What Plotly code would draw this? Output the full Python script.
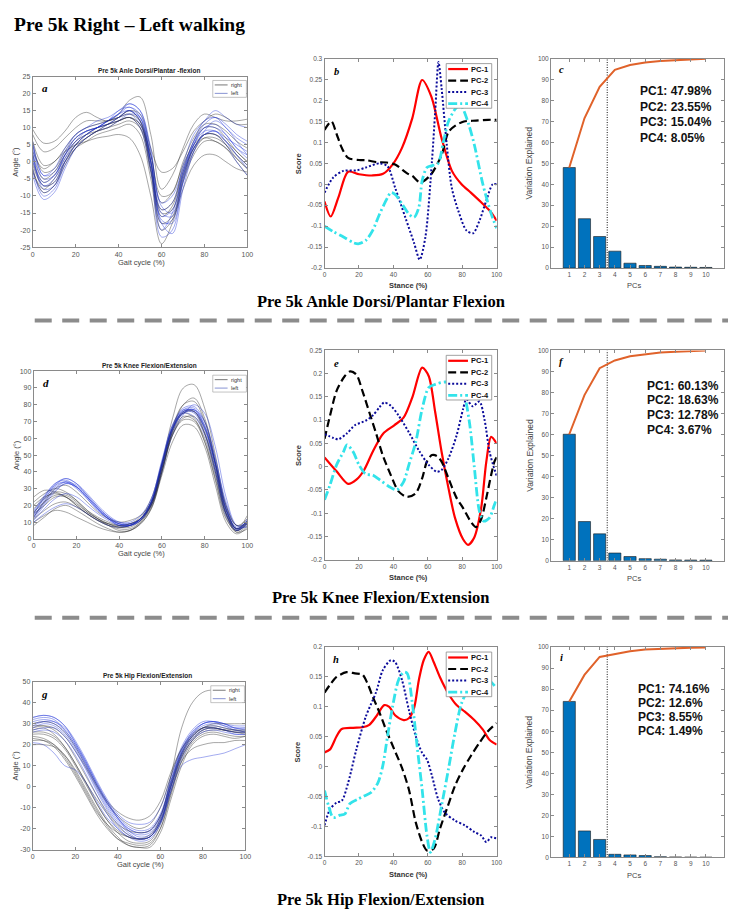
import numpy as np
import plotly.graph_objects as go

W, H = 736, 910

# ---------------- data ----------------
gait_x = [0, 5, 10, 15, 20, 25, 30, 35, 40, 45, 50, 55, 60, 65, 70, 75, 80, 85, 90, 95, 100]

ankle_right = [
    [9.5, 5.5, 6, 9, 13, 14.5, 13, 12, 14, 18, 19, 8, -8, -4, 4, 11, 14, 13, 12, 12, 12.5],
    [5, -3, -2, 3, 7, 9, 10, 11, 12, 13, 11, 2, -12, -9, -1, 5, 8, 8, 6, 3, 0],
    [0, -6, -4, 1, 5, 7, 9, 10, 11, 12, 10, 0, -16, -13, -3, 4, 7, 6, 4, 1, -2],
    [-3, -8, -5, 0, 4, 6, 8, 9, 10, 11, 8, -5, -20, -17, -6, 2, 6, 6, 4, 0, -4],
    [3, -2, 0, 3, 5, 6, 7, 7.5, 8, 7, 2, -10, -24, -18, -8, -1, 2, 2, 0, -2, -3],
    [8, 3, 4, 7, 10, 12, 12, 12, 13, 15, 14, 4, -3, -2, 3, 9, 12, 14, 13, 11, 11],
    [-1, -7, -6, 0, 5, 8, 10, 11, 13, 15, 12, -2, -14, -12, -2, 6, 10, 10, 7, 3, 0],
    [2, -5, -3, 2, 6, 8, 9, 10, 12, 13, 11, 0, -15, -14, -4, 4, 8, 8, 5, 1, -2],
    [6, -1, 0, 4, 8, 10, 11, 12, 13, 14, 12, 2, -10, -9, 0, 7, 11, 11, 9, 6, 4],
    [-2, -9, -7, -1, 4, 7, 9, 11, 12, 13, 10, -3, -18, -16, -5, 3, 7, 7, 5, 2, -1],
]
ankle_left = [
    [3, -8, -7, 0, 5, 8, 10, 12, 14, 16, 13, 0, -18, -17, -5, 5, 10, 11, 8, 4, 1],
    [-2, -10, -8, -1, 4, 7, 9, 11, 13, 15, 12, -2, -20, -15, -3, 5, 9, 9, 6, 2, -1],
    [6, -4, -3, 3, 8, 10, 11, 12, 14, 17, 15, 4, -14, -12, -1, 8, 12, 15, 13, 11, 10],
    [0, -7, -6, 1, 6, 9, 10, 12, 13, 14, 11, -2, -22, -20, -6, 4, 8, 8, 5, 0, -4],
    [4, -5, -4, 2, 7, 9, 10, 11, 12, 13, 10, -3, -16, -14, -4, 4, 8, 9, 7, 5, 3],
    [-4, -11, -9, -2, 4, 7, 9, 10, 12, 14, 13, 0, -18, -21, -8, 3, 9, 12, 10, 6, 2],
    [1, -6, -4, 2, 6, 8, 10, 12, 15, 16, 14, 2, -12, -10, -2, 6, 12, 13, 10, 7, 5],
    [2, -7, -5, 2, 7, 9, 10, 12, 14, 15, 12, 0, -15, -16, -4, 5, 10, 10, 8, 4, 2],
    [-3, -9, -7, 0, 5, 8, 10, 11, 13, 15, 13, 0, -17, -18, -6, 3, 8, 9, 6, 2, -2],
    [5, -4, -2, 4, 8, 10, 12, 13, 15, 17, 15, 3, -13, -15, -3, 6, 11, 13, 11, 8, 6],
]

knee_right = [
    [25, 29, 28, 25, 20, 15, 11, 8, 7, 8, 12, 22, 45, 72, 90, 92, 78, 50, 20, 8, 12],
    [22, 27, 30, 28, 23, 17, 12, 8, 5, 5, 9, 18, 40, 65, 80, 84, 72, 45, 15, 4, 6],
    [10, 14, 17, 16, 13, 10, 7, 5, 4, 5, 9, 18, 38, 58, 68, 67, 55, 32, 10, 3, 7],
    [15, 20, 25, 25, 20, 15, 11, 9, 8, 9, 13, 24, 45, 66, 75, 72, 58, 35, 12, 5, 10],
    [8, 13, 18, 20, 17, 13, 9, 6, 4, 5, 10, 20, 42, 63, 73, 71, 60, 38, 15, 6, 14],
    [13, 22, 30, 32, 28, 22, 16, 12, 10, 11, 14, 22, 42, 64, 75, 76, 66, 45, 20, 8, 9],
    [18, 24, 28, 27, 23, 17, 13, 10, 8, 9, 12, 20, 40, 62, 71, 70, 58, 36, 13, 4, 8],
    [20, 25, 27, 25, 21, 16, 12, 9, 7, 8, 12, 21, 43, 65, 76, 76, 63, 40, 15, 5, 9],
    [12, 17, 21, 22, 19, 15, 11, 8, 6, 6, 10, 19, 40, 62, 72, 73, 63, 42, 17, 6, 11],
    [16, 22, 26, 26, 22, 16, 12, 9, 7, 7, 11, 21, 44, 67, 80, 82, 70, 46, 18, 6, 10],
]
knee_left = [
    [15, 25, 33, 35, 31, 24, 17, 12, 9, 9, 12, 22, 45, 67, 77, 78, 68, 45, 18, 6, 8],
    [13, 23, 32, 36, 33, 26, 19, 13, 9, 8, 11, 20, 42, 64, 75, 77, 70, 48, 22, 8, 10],
    [12, 20, 28, 33, 31, 25, 18, 12, 8, 8, 12, 23, 47, 68, 77, 76, 65, 42, 16, 5, 10],
    [17, 26, 33, 36, 33, 27, 20, 14, 10, 9, 12, 20, 40, 62, 74, 80, 75, 55, 25, 8, 7],
    [10, 15, 19, 21, 19, 15, 11, 8, 7, 8, 12, 22, 44, 66, 75, 73, 62, 40, 15, 5, 12],
    [16, 25, 32, 34, 30, 24, 17, 12, 8, 8, 11, 21, 44, 66, 76, 75, 63, 40, 14, 5, 9],
    [14, 22, 30, 34, 32, 26, 19, 13, 10, 10, 14, 24, 46, 68, 78, 79, 70, 48, 20, 6, 11],
    [15, 24, 31, 34, 31, 25, 18, 13, 9, 9, 12, 22, 44, 66, 76, 77, 67, 44, 17, 6, 9],
    [13, 21, 29, 33, 31, 25, 18, 12, 9, 8, 11, 21, 43, 65, 75, 76, 66, 44, 18, 7, 10],
    [11, 18, 24, 27, 25, 20, 15, 11, 8, 8, 12, 22, 44, 66, 76, 77, 67, 45, 18, 6, 11],
]

hip_right = [
    [27, 28, 25, 19, 11, 2, -6, -13, -19, -23, -25, -24, -15, 5, 28, 40, 45, 46, 44, 42, 41],
    [22, 22, 20, 15, 7, -2, -11, -19, -25, -28, -29, -29, -22, -6, 10, 20, 24, 25, 24, 23, 24],
    [25, 25, 23, 18, 10, 1, -8, -16, -22, -26, -27, -26, -18, -2, 14, 22, 26, 27, 27, 27, 26],
    [28, 29, 28, 24, 17, 9, 0, -8, -14, -18, -20, -18, -10, 5, 18, 25, 28, 28, 27, 26, 26],
    [20, 20, 19, 15, 8, -1, -10, -18, -24, -28, -29, -28, -20, -3, 12, 18, 20, 21, 21, 22, 22],
    [30, 31, 30, 26, 19, 10, 1, -7, -12, -15, -16, -14, -7, 7, 18, 24, 28, 30, 30, 30, 30],
    [24, 23, 20, 14, 6, -3, -12, -18, -22, -24, -25, -23, -16, 0, 14, 22, 27, 28, 27, 26, 25],
    [26, 26, 24, 19, 11, 2, -8, -16, -21, -24, -25, -24, -17, 0, 15, 23, 27, 28, 27, 26, 26],
    [23, 22, 19, 13, 5, -4, -13, -20, -25, -27, -28, -27, -20, -4, 12, 21, 25, 26, 25, 24, 24],
    [29, 29, 27, 22, 14, 5, -4, -12, -18, -21, -22, -21, -14, 2, 16, 24, 28, 29, 28, 27, 27],
]
hip_left = [
    [33, 34, 33, 29, 22, 13, 3, -6, -13, -17, -18, -17, -10, 5, 19, 27, 31, 31, 29, 28, 28],
    [29, 31, 31, 28, 21, 12, 2, -7, -15, -21, -23, -22, -15, 1, 16, 24, 28, 28, 27, 25, 25],
    [21, 20, 16, 10, 8, 2, -7, -15, -20, -24, -25, -24, -17, -2, 10, 13, 14, 15, 16, 18, 20],
    [32, 33, 32, 27, 20, 11, 1, -8, -15, -20, -22, -21, -14, 2, 17, 25, 30, 31, 30, 28, 27],
    [26, 27, 26, 22, 15, 6, -4, -13, -20, -24, -26, -25, -18, -2, 13, 22, 26, 27, 26, 25, 25],
    [28, 30, 29, 25, 18, 9, -1, -10, -17, -22, -25, -24, -17, 0, 15, 24, 28, 29, 28, 27, 26],
    [31, 32, 31, 27, 20, 11, 1, -8, -15, -20, -22, -21, -14, 3, 18, 26, 30, 31, 30, 29, 29],
    [30, 31, 30, 26, 19, 10, 0, -9, -16, -21, -24, -23, -16, 1, 16, 25, 29, 30, 29, 27, 27],
    [27, 28, 28, 24, 17, 8, -2, -11, -18, -23, -25, -24, -17, 0, 15, 23, 27, 28, 27, 26, 26],
    [33, 34, 33, 29, 21, 12, 2, -7, -14, -19, -21, -20, -13, 3, 17, 26, 30, 31, 30, 28, 28],
]

# PC scores (stance %)
ank_pc1_x = [0, 3.6, 8, 13.7, 20, 28, 34, 39.5, 45, 51, 56.7, 62, 68, 74, 79.6, 85, 91, 96.8, 100]
ank_pc1_y = [-0.041, -0.077, -0.032, 0.03, 0.024, 0.021, 0.025, 0.047, 0.087, 0.158, 0.249, 0.21, 0.11, 0.032, 0.0, -0.02, -0.043, -0.067, -0.087]
ank_pc2_x = [0, 4, 7, 10, 13.7, 20, 25, 30, 36, 41, 48, 51, 55, 57, 62, 68, 72, 76, 81, 88, 95, 100]
ank_pc2_y = [0.13, 0.15, 0.12, 0.087, 0.063, 0.058, 0.057, 0.053, 0.052, 0.047, 0.026, 0.02, 0.005, 0.006, 0.024, 0.07, 0.125, 0.14, 0.15, 0.152, 0.154, 0.154]
ank_pc3_x = [0, 5, 11, 18.5, 24, 32, 36.6, 41, 47, 52, 55.3, 58.6, 62.4, 64.3, 66.2, 68, 71, 73.9, 77.7, 82.4, 86.3, 90, 93.9, 97.7, 100]
ank_pc3_y = [-0.02, 0.016, 0.032, 0.033, 0.04, 0.05, 0.043, -0.008, -0.08, -0.14, -0.18, -0.126, 0.055, 0.174, 0.292, 0.23, 0.095, -0.008, -0.063, -0.11, -0.117, -0.087, -0.04, 0.0, 0.0]
ank_pc4_x = [0, 5, 11, 17, 20, 24, 28, 32, 36.6, 38.5, 41, 45, 49, 52, 54.8, 56.7, 59.5, 63, 66, 69, 72, 76, 79, 81, 84, 87, 92, 96.8, 100]
ank_pc4_y = [-0.1, -0.113, -0.126, -0.14, -0.142, -0.134, -0.11, -0.071, -0.032, -0.02, -0.024, -0.047, -0.071, -0.079, -0.055, 0.008, 0.04, 0.045, 0.05, 0.1, 0.15, 0.18, 0.19, 0.175, 0.14, 0.095, 0.0, -0.07, -0.105]

kn_pc1_x = [0, 7, 13.7, 18.5, 23, 28, 34, 40.5, 46, 51, 56.7, 60.5, 64.3, 68, 72, 75.8, 80.5, 83.4, 87, 91, 94, 96.8, 100]
kn_pc1_y = [0.02, -0.01, -0.037, -0.028, -0.007, 0.032, 0.071, 0.089, 0.106, 0.149, 0.213, 0.195, 0.117, 0.032, -0.046, -0.11, -0.156, -0.168, -0.152, -0.089, 0.011, 0.064, 0.05]
kn_pc2_x = [0, 3.2, 7, 11.8, 15, 18.5, 22, 26, 30, 33.8, 38.5, 43, 48, 53, 56.7, 59.5, 62.4, 65.3, 68, 72, 76.7, 80.5, 85.3, 88, 91, 94, 96.8, 98.7, 100]
kn_pc2_y = [0.06, 0.11, 0.163, 0.195, 0.205, 0.198, 0.163, 0.117, 0.071, 0.025, -0.018, -0.053, -0.065, -0.057, -0.025, 0.011, 0.025, 0.023, 0.011, -0.025, -0.067, -0.089, -0.12, -0.13, -0.113, -0.067, -0.018, 0.011, 0.02]
kn_pc3_x = [0, 5, 8, 12.8, 17.6, 24, 28, 32, 34.7, 38.5, 43, 49, 54.8, 60.5, 65.3, 68, 72, 76.7, 80.5, 82.4, 86, 90, 93, 96, 100]
kn_pc3_y = [0.07, 0.062, 0.059, 0.071, 0.089, 0.099, 0.11, 0.128, 0.138, 0.131, 0.11, 0.074, 0.035, 0.004, -0.011, -0.007, 0.018, 0.067, 0.124, 0.145, 0.13, 0.14, 0.1, 0.03, -0.02]
kn_pc4_x = [0, 3.2, 7, 11, 13, 16.6, 20, 24, 28, 32, 37.6, 42, 46, 49, 53, 56.7, 60.5, 64.3, 70, 75.8, 80.5, 84, 87, 90, 92.5, 95.8, 98.7, 100]
kn_pc4_y = [-0.071, -0.039, 0.004, 0.032, 0.047, 0.032, 0.004, -0.016, -0.018, -0.028, -0.043, -0.05, -0.032, 0.004, 0.053, 0.124, 0.17, 0.177, 0.182, 0.177, 0.16, 0.1, 0.0, -0.096, -0.117, -0.11, -0.082, -0.07]

hp_pc1_x = [0, 3.2, 7, 10, 16.6, 22, 26, 30, 34.7, 37.6, 41, 46, 49, 52, 54.8, 57.6, 60.5, 63.4, 67, 72, 76.7, 81.5, 87, 92, 95.8, 100]
hp_pc1_y = [0.024, 0.029, 0.051, 0.063, 0.065, 0.066, 0.07, 0.084, 0.103, 0.1, 0.086, 0.078, 0.081, 0.098, 0.145, 0.178, 0.192, 0.175, 0.15, 0.122, 0.103, 0.092, 0.078, 0.062, 0.045, 0.037]
hp_pc2_x = [0, 3.2, 7, 12.8, 17.6, 22, 25, 28, 32, 35.7, 40.5, 45, 49, 53, 56.7, 59.5, 63.4, 67, 71, 75.8, 80.5, 85, 90, 94.8, 100]
hp_pc2_y = [0.124, 0.137, 0.15, 0.158, 0.156, 0.154, 0.139, 0.117, 0.09, 0.062, 0.029, -0.002, -0.038, -0.093, -0.126, -0.14, -0.137, -0.104, -0.071, -0.032, -0.004, 0.018, 0.04, 0.059, 0.073]
hp_pc3_x = [0, 3.2, 7, 10, 13.7, 18.5, 24, 30, 33.8, 38.5, 41, 45, 49, 53, 56.7, 59.5, 62.4, 66, 70, 75.8, 81.5, 87, 91, 94, 96.8, 100]
hp_pc3_y = [-0.098, -0.071, -0.06, -0.057, -0.027, 0.029, 0.084, 0.125, 0.161, 0.178, 0.175, 0.145, 0.095, 0.051, 0.023, 0.012, -0.015, -0.054, -0.077, -0.09, -0.098, -0.109, -0.115, -0.126, -0.118, -0.12]
hp_pc4_x = [0, 2.3, 5, 9, 11.8, 14.7, 19.5, 23, 27, 31, 33.8, 36.6, 39.5, 43, 46, 48, 51, 53.8, 56.7, 59.5, 61.5, 64.3, 68, 72, 75.8, 79.6, 83.4, 89, 95, 100]
hp_pc4_y = [-0.04, -0.065, -0.085, -0.081, -0.079, -0.062, -0.054, -0.049, -0.043, -0.027, 0.001, 0.051, 0.1, 0.145, 0.158, 0.156, 0.106, 0.034, -0.038, -0.115, -0.143, -0.12, -0.065, -0.004, 0.057, 0.106, 0.128, 0.142, 0.145, 0.131]

# variance explained
pcs = [1, 2, 3, 4, 5, 6, 7, 8, 9, 10]
ankle_var = [47.98, 23.55, 15.04, 8.05, 2.3, 1.2, 0.8, 0.45, 0.35, 0.28]
knee_var = [60.13, 18.63, 12.78, 3.67, 2.0, 1.0, 0.75, 0.4, 0.34, 0.3]
hip_var = [74.16, 12.6, 8.55, 1.49, 1.2, 0.9, 0.35, 0.25, 0.2, 0.15]
pc_cutoff = 3.5

pc_names = ["PC-1", "PC-2", "PC-3", "PC-4"]
gait_titles = ["Pre 5k Anle Dorsi/Plantar -flexion", "Pre 5k Knee Flexion/Extension", "Pre 5k Hip Flexion/Extension"]
section_titles = ["Pre 5k Ankle Dorsi/Plantar Flexion", "Pre 5k Knee Flexion/Extension", "Pre 5k Hip Flexion/Extension"]
main_title = "Pre 5k Right \u2013 Left walking"
panel_letters = ["a", "b", "c", "d", "e", "f", "g", "h", "i"]

# ---------------- layout helpers ----------------
boxes = [
    (23, 240, 65, 237), (318, 492, 47, 258), (547, 722, 47, 258),
    (24, 240, 362, 531), (318, 492, 341, 552), (547, 722, 341, 553),
    (23, 238, 675, 844), (318, 492, 640, 851), (547, 722, 640, 852),
]

def px(x):
    return x / W

def py(y):
    return 1 - y / H

fig = go.Figure()
annotations = []
shapes = []

def ann(text, x, y, size, color="#000000", family="Liberation Sans", xanchor="center",
        yanchor="middle", angle=0):
    annotations.append(dict(text=text, x=px(x), y=py(y), xref="paper", yref="paper",
                            showarrow=False, xanchor=xanchor, yanchor=yanchor, textangle=angle,
                            font=dict(size=size, color=color, family=family)))

axis_color = "#8a8a8a"
tick_color = "#555555"

def fmt(v):
    s = f"{v:g}"
    return "0" if s in ("-0",) else s

def set_axes(k, xr, yr, xt, yt, tsize):
    l, r, t, b = boxes[k - 1]
    sfx = "" if k == 1 else str(k)
    common = dict(showline=True, linecolor=axis_color, linewidth=1, mirror="ticks",
                  ticks="inside", ticklen=3, tickcolor=axis_color, showgrid=False,
                  zeroline=False, tickfont=dict(size=tsize, color=tick_color, family="Liberation Sans"))
    fig.layout["xaxis" + sfx] = dict(domain=[px(l), px(r)], anchor="y" + sfx, range=xr,
                                     tickvals=xt, ticktext=[fmt(v) for v in xt], **common)
    fig.layout["yaxis" + sfx] = dict(domain=[py(b), py(t)], anchor="x" + sfx, range=yr,
                                     tickvals=yt, ticktext=[fmt(v) for v in yt], **common)

def xy(k):
    return ("x", "y") if k == 1 else ("x" + str(k), "y" + str(k))

right_col = "rgba(35,35,35,0.5)"
left_col = "rgba(25,45,215,0.5)"

# ---------------- gait panels ----------------
gait_sets = [(1, ankle_right, ankle_left, [-25, 25], list(range(-25, 26, 5))),
             (4, knee_right, knee_left, [0, 100], list(range(0, 101, 10))),
             (7, hip_right, hip_left, [-30, 50], list(range(-30, 51, 10)))]

for gi, (k, rset, lset, yr, yt) in enumerate(gait_sets):
    xa, ya = xy(k)
    for i in range(max(len(rset), len(lset))):
        if i < len(rset):
            fig.add_trace(go.Scatter(x=gait_x, y=rset[i], mode="lines", xaxis=xa, yaxis=ya,
                                     line=dict(color=right_col, width=0.8, shape="spline", smoothing=1),
                                     showlegend=False, hoverinfo="skip"))
        if i < len(lset):
            fig.add_trace(go.Scatter(x=gait_x, y=lset[i], mode="lines", xaxis=xa, yaxis=ya,
                                     line=dict(color=left_col, width=0.8, shape="spline", smoothing=1),
                                     showlegend=False, hoverinfo="skip"))
    set_axes(k, [0, 100], yr, list(range(0, 101, 20)), yt, 7)
    l, r, t, b = boxes[k - 1]
    ann("<b>" + gait_titles[gi] + "</b>", (l + r) / 2 + 9, t - 6, 6.5, color="#222222")
    ann("Gait cycle (%)", (l + r) / 2 + 1, b + 15, 7.5, color="#444444")
    ann("Angle (\u00b0)", 6, (t + b) / 2, 7.5, color="#444444", angle=-90)
    ann("<i><b>" + panel_letters[k - 1] + "</b></i>", l + 12, t + 12, 11,
        family="Liberation Serif")
    # small legend
    lx0, lx1 = r - 35, r - 1
    ly0 = t + 4
    shapes.append(dict(type="rect", xref="paper", yref="paper", x0=px(lx0), x1=px(lx1),
                       y0=py(ly0 + 17), y1=py(ly0), line=dict(color="#9a9a9a", width=0.6),
                       fillcolor="white", layer="above"))
    for j, (name, col) in enumerate([("right", "#555555"), ("left", "#6a78c8")]):
        yy = ly0 + 4.5 + j * 8.5
        shapes.append(dict(type="line", xref="paper", yref="paper", x0=px(lx0 + 2), x1=px(lx0 + 15),
                           y0=py(yy), y1=py(yy), line=dict(color=col, width=0.8), layer="above"))
        ann(name, lx0 + 16.5, yy, 5.5, color="#333333", xanchor="left")

# ---------------- PC score panels ----------------
pc_style = [dict(color="#FF0000", width=2.2, dash="solid"),
            dict(color="#000000", width=2.2, dash="8px,4px"),
            dict(color="#0a0a9a", width=2, dash="2px,2px"),
            dict(color="#33E3EA", width=2.8, dash="9px,3px,2px,3px")]

pc_sets = [(2, [(ank_pc1_x, ank_pc1_y), (ank_pc2_x, ank_pc2_y), (ank_pc3_x, ank_pc3_y), (ank_pc4_x, ank_pc4_y)], [-0.2, 0.3]),
           (5, [(kn_pc1_x, kn_pc1_y), (kn_pc2_x, kn_pc2_y), (kn_pc3_x, kn_pc3_y), (kn_pc4_x, kn_pc4_y)], [-0.2, 0.25]),
           (8, [(hp_pc1_x, hp_pc1_y), (hp_pc2_x, hp_pc2_y), (hp_pc3_x, hp_pc3_y), (hp_pc4_x, hp_pc4_y)], [-0.15, 0.2])]

for k, curves, yr in pc_sets:
    xa, ya = xy(k)
    for j, (cx, cy) in enumerate(curves):
        st = pc_style[j]
        fig.add_trace(go.Scatter(x=cx, y=cy, mode="lines", xaxis=xa, yaxis=ya, name=pc_names[j],
                                 line=dict(color=st["color"], width=st["width"], dash=st["dash"],
                                           shape="spline", smoothing=0.8),
                                 showlegend=False, hoverinfo="skip"))
    yt = [round(v, 2) for v in np.arange(yr[0], yr[1] + 1e-9, 0.05)]
    set_axes(k, [0, 100], yr, list(range(0, 101, 20)), yt, 6.5)
    l, r, t, b = boxes[k - 1]
    ann("<b>Stance (%)</b>", (l + r) / 2 - 2, b + 18, 7.5, color="#333333")
    ann("<b>Score</b>", 291, (t + b) / 2, 7.5, color="#333333", angle=-90)
    ann("<i><b>" + panel_letters[k - 1] + "</b></i>", l + 12, t + 13, 10.5,
        family="Liberation Serif")
    # legend
    lx0, lx1 = 441, 487
    ly0 = t + 5
    shapes.append(dict(type="rect", xref="paper", yref="paper", x0=px(lx0), x1=px(lx1),
                       y0=py(ly0 + 45), y1=py(ly0), line=dict(color="#8a8a8a", width=0.8),
                       fillcolor="white", layer="above"))
    for j in range(4):
        st = pc_style[j]
        yy = ly0 + 5.5 + j * 11.6
        shapes.append(dict(type="line", xref="paper", yref="paper", x0=px(lx0 + 2), x1=px(lx0 + 22),
                           y0=py(yy), y1=py(yy),
                           line=dict(color=st["color"], width=st["width"], dash=st["dash"]),
                           layer="above"))
        ann("<b>" + pc_names[j] + "</b>", lx0 + 23.5, yy, 7.5, color="#111111", xanchor="left")

# ---------------- variance panels ----------------
var_sets = [(3, ankle_var, [80, 96, 111, 127], 635),
            (6, knee_var, [377, 391, 406, 421], 642),
            (9, hip_var, [682, 696, 710, 725], 633)]

for k, var, text_y, text_x in var_sets:
    xa, ya = xy(k)
    fig.add_trace(go.Bar(x=pcs, y=var, xaxis=xa, yaxis=ya, width=0.8,
                         marker=dict(color="#0072BD", line=dict(color="#1a1a1a", width=0.6)),
                         showlegend=False, hoverinfo="skip"))
    fig.add_trace(go.Scatter(x=[pc_cutoff, pc_cutoff], y=[0, 100], mode="lines", xaxis=xa, yaxis=ya,
                             line=dict(color="#111111", width=1, dash="1px,1.5px"),
                             showlegend=False, hoverinfo="skip"))
    fig.add_trace(go.Scatter(x=pcs, y=list(np.cumsum(var)), mode="lines", xaxis=xa, yaxis=ya,
                             line=dict(color="#E0622A", width=2), showlegend=False, hoverinfo="skip"))
    set_axes(k, [-0.2, 11.2], [0, 100], pcs, list(range(0, 101, 10)), 6.5)
    l, r, t, b = boxes[k - 1]
    ann("PCs", 631, b + 18, 7.5, color="#444444")
    ann("Variation Explained", 525, (t + b) / 2, 8.5, color="#444444", angle=-90)
    ann("<i><b>" + panel_letters[k - 1] + "</b></i>", l + 11, t + 11, 10.5,
        family="Liberation Serif")
    for j in range(4):
        ann(f"<b>PC{j + 1}: {var[j]:g}%</b>", text_x, text_y[j], 12, color="#111111",
            xanchor="left")

# ---------------- titles & separators ----------------
ann("<b>" + main_title + "</b>", 2, 13, 19.5, family="Liberation Serif", xanchor="left")
for ti, yy in zip(section_titles, [292, 590, 894]):
    ann("<b>" + ti + "</b>", 375, yy, 16.5, family="Liberation Serif")

for yy in [311, 610.5]:
    shapes.append(dict(type="line", xref="paper", yref="paper", x0=px(25), x1=px(733),
                       y0=py(yy), y1=py(yy), line=dict(color="#8c8c8c", width=4, dash="17px,10.5px")))

fig.update_layout(width=W, height=H, margin=dict(l=0, r=0, t=0, b=0),
                  paper_bgcolor="white", plot_bgcolor="white", showlegend=False,
                  font=dict(family="Liberation Sans"),
                  annotations=annotations, shapes=shapes)

fig.write_html("out.html")
